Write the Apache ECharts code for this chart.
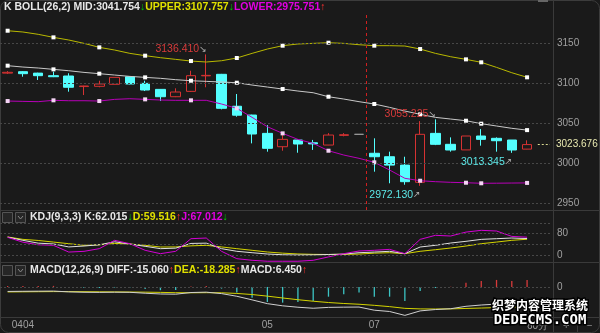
<!DOCTYPE html>
<html><head><meta charset="utf-8">
<script src="https://cdn.jsdelivr.net/npm/echarts@6/dist/echarts.min.js"></script>
<style>html,body{margin:0;padding:0;background:#1a1a1a;}#c{width:600px;height:333px;}</style>
</head><body><div id="c"></div>
<script>
// ---- data (60-minute bars) ----
const opens  = [3113.0,3114.8,3113.0,3109.8,3109.4,3096.2,3096.5,3099.0,3108.5,3100.2,3092.7,3083.5,3090.2,3109.6,3111.5,3071.6,3060.6,3037.7,3021.0,3029.4,3026.0,3023.1,3035.2,3036.5,3012.8,3008.5,2998.0,2976.5,3037.7,3024.0,3017.0,3034.4,3031.5,3029.4,3018.0];
const closes = [3114.0,3112.3,3109.8,3108.5,3095.3,3096.9,3099.4,3107.7,3099.4,3091.9,3083.5,3089.4,3109.8,3110.2,3069.0,3060.4,3036.9,3019.0,3030.2,3024.4,3024.5,3035.6,3036.0,3036.5,3008.5,2998.0,2977.3,3036.5,3024.0,3016.9,3034.4,3030.2,3028.5,3016.9,3023.676];
const lows   = [3112.0,3108.5,3104.4,3108.0,3089.8,3085.6,3095.3,3099.0,3099.0,3090.6,3078.1,3083.0,3089.5,3095.3,3067.7,3058.5,3025.2,3014.8,3016.0,3013.5,3017.0,3023.0,3034.0,3036.5,2989.8,2975.3,2973.5,2972.13,3023.0,3014.8,3017.0,3022.3,3014.8,3013.345,3017.8];
const highs  = [3115.5,3115.5,3113.5,3114.8,3112.8,3097.2,3103.5,3107.7,3109.0,3103.5,3093.0,3094.0,3116.0,3136.41,3112.0,3086.9,3061.0,3048.0,3035.6,3030.0,3029.5,3038.0,3038.0,3036.5,3031.5,3014.8,3008.5,3053.0,3055.225,3032.7,3034.4,3043.1,3032.7,3029.4,3029.0];

const bollUpper = [3166.0,3164.4,3161.5,3157.7,3154.4,3150.2,3145.2,3141.9,3137.7,3134.8,3132.3,3130.2,3128.1,3126.9,3128.5,3131.9,3137.7,3143.1,3147.3,3149.4,3150.2,3151.0,3150.2,3148.5,3147.3,3147.3,3146.9,3143.1,3137.7,3133.5,3130.2,3126.5,3120.2,3113.5,3107.757];
const bollMid   = [3122.3,3120.6,3119.4,3117.7,3116.0,3113.9,3112.3,3110.6,3108.9,3107.7,3106.5,3104.8,3103.5,3102.7,3101.9,3101.0,3098.1,3095.6,3093.1,3090.6,3088.5,3083.5,3080.6,3077.3,3074.4,3070.2,3065.6,3061.5,3057.7,3055.6,3053.5,3049.8,3046.9,3044.0,3041.754];
const bollLower = [3078.1,3077.7,3077.3,3079.0,3078.5,3078.5,3078.1,3080.2,3081.0,3080.2,3079.4,3079.0,3079.0,3079.0,3074.4,3069.0,3057.7,3046.0,3037.7,3030.2,3025.2,3016.0,3010.6,3006.5,3001.5,2991.9,2981.5,2978.5,2977.3,2976.5,2976.0,2975.3,2975.4,2975.6,2975.751];
const bollMarkIdx = [0,3,6,9,12,15,18,21,24,27,30,31,34];

const kdjK = [67.5,55.5,45.0,42.0,31.0,34.4,39.0,50.0,41.8,33.3,24.6,26.5,44.0,45.0,24.6,14.8,9.6,4.8,2.0,1.0,1.5,3.0,4.5,9.6,12.0,14.8,6.0,30.7,37.0,45.5,51.8,59.0,61.5,64.0,62.015];
const kdjD = [68.0,59.0,55.0,49.0,43.0,37.0,39.0,44.0,41.8,37.0,30.7,31.0,35.0,37.0,31.0,24.6,18.5,12.2,8.0,5.0,3.5,3.0,3.5,4.5,8.0,9.6,6.0,14.8,20.7,27.0,34.4,43.0,49.0,55.5,59.516];
const kdjJ = [66.5,48.5,39.0,37.0,12.0,14.7,24.6,55.5,43.0,18.5,6.0,14.8,61.5,64.0,14.8,-12.5,-18.5,-22.0,-22.0,-22.0,-18.5,-6.0,6.0,16.0,18.5,22.0,6.0,59.0,74.0,71.5,86.0,92.5,90.0,70.0,67.012];

const macdDiff = [-4.15,-4.0,-3.9,-3.8,-4.55,-4.9,-5.0,-4.85,-4.95,-5.8,-6.5,-6.7,-5.15,-4.8,-6.15,-8.6,-11.95,-15.45,-17.45,-18.75,-19.7,-18.9,-18.7,-18.6,-21.5,-22.7,-26.3,-22.15,-20.9,-20.15,-17.9,-16.7,-15.85,-15.9,-15.060];
const macdDea  = [-4.6,-4.5,-4.4,-4.3,-4.3,-4.4,-4.5,-4.6,-4.7,-4.8,-5.0,-5.3,-5.4,-5.3,-5.4,-6.0,-7.0,-8.5,-10.2,-11.8,-13.2,-14.4,-15.3,-16.0,-17.0,-18.2,-19.8,-20.3,-20.4,-20.3,-19.9,-19.5,-19.1,-18.7,-18.285];
const macdBar  = [0.9,1.0,1.0,1.0,-0.5,-1.0,-1.0,-0.5,-0.5,-2.0,-3.0,-2.8,0.5,1.0,-1.5,-5.2,-9.9,-13.9,-14.5,-13.9,-13.0,-9.0,-6.8,-5.2,-9.0,-9.0,-13.0,-3.7,-1.0,0.3,4.0,5.6,6.5,5.6,6.450];

const priceTicks = [2950,3000,3050,3100,3150];
const kdjTicks = [0,80];
const kdjGrid = [0,40,80,120];
const macdTicks = [0];
const dayLabels = ['0404','05','07'];
const dayLabelIdx = [1,17,24];
const sessionBreakAfter = 23;
const annotations = [{i:13,kind:'high'},{i:28,kind:'high'},{i:27,kind:'low'},{i:33,kind:'low'}];

// ---- build ----
const n = opens.length;
const cats = opens.map((_, i) => String(i)).concat(['pad']);
const last = a => a[a.length - 1];
const lastPrice = last(closes);
const RED = '#d63232', CYAN = '#54ffff', GREEN = '#00c800';
const arrow = a => a[a.length-1] > a[a.length-2] ? '{r|↑}' : '{g|↓}';
const FONT = 'Liberation Sans, Arial, sans-serif';

const candleData = opens.map((o, i) => {
  const v = [o, closes[i], lows[i], highs[i]];
  if (o === closes[i] && lows[i] === highs[i]) return {value: v, itemStyle: {color: '#9a9a9a', borderColor: '#9a9a9a', color0: '#9a9a9a', borderColor0: '#9a9a9a'}};
  return v;
});
const markData = (arr) => arr.map((v, i) => ({value: v, symbol: bollMarkIdx.includes(i) ? 'rect' : 'none'}));

const rich = {
  w: {color: '#e8e8e8', fontSize: 10.5, fontFamily: FONT},
  y: {color: '#e0e000', fontSize: 10.5, fontFamily: FONT},
  m: {color: '#e000e0', fontSize: 10.5, fontFamily: FONT},
  r: {color: '#ff3030', fontSize: 10.5, fontFamily: FONT},
  g: {color: GREEN, fontSize: 10.5, fontFamily: FONT}
};
const f3 = v => v.toFixed(3);

const gridLineStyle = {color: '#474747', type: [2, 2], width: 1};
const gridMarkData = vals => vals.map(v => ({yAxis: v, lineStyle: gridLineStyle, label: {show: false}}));

const annPoints = annotations.map(a => {
  const v = a.kind === 'high' ? highs[a.i] : lows[a.i];
  const hi = a.kind === 'high';
  return {
    coord: [a.i, v], symbol: 'circle', symbolSize: 1, itemStyle: {color: 'rgba(0,0,0,0)'},
    label: {show: true, position: 'left', distance: 0, offset: hi ? [1, -5] : [1, 9],
      formatter: hi ? `{t|${f3(v)}}{a|↘}` : `{t|${f3(v)}}{a|↗}`,
      rich: {t: {color: hi ? '#d83a3a' : '#5ce8e8', fontSize: 10.5, fontFamily: FONT}, a: {color: '#b0b0b0', fontSize: 9, fontFamily: 'DejaVu Sans'}}}
  };
});

const chart = echarts.init(document.getElementById('c'), null, {renderer: 'canvas'});
const axisLbl = {color: '#a0a0a0', fontSize: 10, fontFamily: FONT, formatter: v => String(v)};

chart.setOption({
  backgroundColor: '#1a1a1a',
  animation: false,
  title: [
    {left: 4, top: 2, padding: 0, text: `{w|K BOLL(26,2) MID:${f3(last(bollMid))}}${arrow(bollMid)}{y|UPPER:${f3(last(bollUpper))}}${arrow(bollUpper)}{m|LOWER:${f3(last(bollLower))}}${arrow(bollLower)}`, textStyle: {rich}},
    {left: 30, top: 212, padding: 0, text: `{w|KDJ(9,3,3) K:${f3(last(kdjK))}}${arrow(kdjK)}{y|D:${f3(last(kdjD))}}${arrow(kdjD)}{m|J:${f3(last(kdjJ))}}${arrow(kdjJ)}`, textStyle: {rich}},
    {left: 30, top: 265, padding: 0, text: `{w|MACD(12,26,9) DIFF:${f3(last(macdDiff))}}${arrow(macdDiff)}{y|DEA:${f3(last(macdDea))}}${arrow(macdDea)}{w|MACD:${f3(last(macdBar))}}${arrow(macdBar)}`, textStyle: {rich}}
  ],
  grid: [
    {left: 0, width: 550, top: 14, height: 196},
    {left: 0, width: 550, top: 210, height: 52},
    {left: 0, width: 550, top: 262, height: 55}
  ],
  xAxis: [
    {type: 'category', gridIndex: 0, data: cats, show: false},
    {type: 'category', gridIndex: 1, data: cats, show: false},
    {type: 'category', gridIndex: 2, data: cats, axisLine: {show: false}, axisTick: {show: false},
      axisLabel: {interval: 0, margin: 3, color: '#a0a0a0', fontSize: 10, fontFamily: FONT, formatter: (v, i) => { const k = dayLabelIdx.indexOf(i); return k >= 0 ? dayLabels[k] : ''; }}},
    {type: 'value', gridIndex: 0, min: -0.5, max: cats.length - 0.5, show: false}
  ],
  yAxis: [
    {type: 'value', gridIndex: 0, position: 'right', min: 2941.9, max: 3186.9, offset: 3, splitLine: {show: false}, axisLine: {show: false}, axisTick: {show: false},
      axisLabel: {customValues: priceTicks, margin: 4, ...axisLbl}},
    {type: 'value', gridIndex: 1, position: 'right', min: -24.8, max: 167.8, offset: 3, splitLine: {show: false}, axisLine: {show: false}, axisTick: {show: false},
      axisLabel: {customValues: kdjTicks, margin: 4, ...axisLbl}},
    {type: 'value', gridIndex: 2, position: 'right', min: -27.8, max: 23.1, offset: 3, splitLine: {show: false}, axisLine: {show: false}, axisTick: {show: false},
      axisLabel: {customValues: macdTicks, margin: 4, ...axisLbl}}
  ],
  series: [
    {type: 'candlestick', xAxisIndex: 0, yAxisIndex: 0, data: candleData, barWidth: 10,
      itemStyle: {color: 'transparent', color0: CYAN, borderColor: RED, borderColor0: CYAN, borderWidth: 1},
      markLine: {silent: true, symbol: ['none','none'], animation: false, data: gridMarkData(priceTicks)},
      markPoint: {silent: true, animation: false, data: annPoints}},
    {type: 'line', xAxisIndex: 0, yAxisIndex: 0, data: markData(bollUpper), showSymbol: true, showAllSymbol: true, symbolSize: 4, itemStyle: {color: '#ffffff'}, lineStyle: {color: '#b8b800', width: 1}},
    {type: 'line', xAxisIndex: 0, yAxisIndex: 0, data: markData(bollMid), showSymbol: true, showAllSymbol: true, symbolSize: 4, itemStyle: {color: '#ffffff'}, lineStyle: {color: '#c8c8c8', width: 1}},
    {type: 'line', xAxisIndex: 0, yAxisIndex: 0, data: markData(bollLower), showSymbol: true, showAllSymbol: true, symbolSize: 4, itemStyle: {color: '#f4d4f4'}, lineStyle: {color: '#b800b8', width: 1}},
    {type: 'scatter', xAxisIndex: 3, yAxisIndex: 0, data: [[sessionBreakAfter + 0.5, lastPrice]], symbolSize: 0,
      markLine: {silent: true, symbol: ['none','none'], animation: false, data: [
        {xAxis: sessionBreakAfter + 0.5, lineStyle: {color: '#d02020', type: [3, 3], width: 1}, label: {show: false}},
        [{coord: [n - 0.3, lastPrice], lineStyle: {color: '#d8d890', type: [2, 2], width: 1},
          label: {show: true, position: 'end', distance: 6, formatter: f3(lastPrice), color: '#e8e8b0', fontSize: 10, fontFamily: FONT}},
         {coord: [cats.length - 0.5, lastPrice]}]
      ]}},
    {type: 'line', xAxisIndex: 1, yAxisIndex: 1, data: kdjD, showSymbol: false, lineStyle: {color: '#d4d400', width: 1},
      markLine: {silent: true, symbol: ['none','none'], animation: false, data: gridMarkData(kdjGrid)}},
    {type: 'line', xAxisIndex: 1, yAxisIndex: 1, data: kdjK, showSymbol: false, lineStyle: {color: '#e0e0e0', width: 1}},
    {type: 'line', xAxisIndex: 1, yAxisIndex: 1, data: kdjJ, showSymbol: false, lineStyle: {color: '#d400d4', width: 1}},
    {type: 'bar', xAxisIndex: 2, yAxisIndex: 2, data: macdBar, barWidth: 1.3,
      itemStyle: {color: p => p.value >= 0 ? '#d83a3a' : '#3cc4c4'},
      markLine: {silent: true, symbol: ['none','none'], animation: false, data: gridMarkData(macdTicks)}},
    {type: 'line', xAxisIndex: 2, yAxisIndex: 2, data: macdDea, showSymbol: false, lineStyle: {color: '#d4d400', width: 1}},
    {type: 'line', xAxisIndex: 2, yAxisIndex: 2, data: macdDiff, showSymbol: false, lineStyle: {color: '#d0d0d0', width: 1}}
  ],
  graphic: [
    {type: 'rect', shape: {x: 0.5, y: 0.5, width: 599, height: 332, r: 8}, style: {fill: 'none', stroke: '#3c3c3c', lineWidth: 1}, silent: true},
    {type: 'line', shape: {x1: 0, y1: 210.5, x2: 600, y2: 210.5}, style: {stroke: '#3a3a3a', lineWidth: 1}, silent: true},
    {type: 'line', shape: {x1: 0, y1: 262.5, x2: 600, y2: 262.5}, style: {stroke: '#3a3a3a', lineWidth: 1}, silent: true},
    {type: 'line', shape: {x1: 0, y1: 317.5, x2: 600, y2: 317.5}, style: {stroke: '#3a3a3a', lineWidth: 1}, silent: true},
    {type: 'line', shape: {x1: 553.5, y1: 0, x2: 553.5, y2: 333}, style: {stroke: '#3a3a3a', lineWidth: 1}, silent: true},
    {type: 'rect', shape: {x: 538, y: 0, width: 10, height: 2}, style: {fill: '#666'}, silent: true},
    {type: 'rect', shape: {x: 2.5, y: 212.5, width: 10, height: 10}, style: {fill: '#262626', stroke: '#555'}, silent: true},
    {type: 'rect', shape: {x: 15.5, y: 212.5, width: 10, height: 10}, style: {fill: '#262626', stroke: '#555'}, silent: true},
    {type: 'polyline', shape: {points: [[18, 216], [20.5, 219], [23, 216]]}, style: {stroke: '#888', fill: 'none'}, silent: true},
    {type: 'rect', shape: {x: 2.5, y: 265.5, width: 10, height: 10}, style: {fill: '#262626', stroke: '#555'}, silent: true},
    {type: 'rect', shape: {x: 15.5, y: 265.5, width: 10, height: 10}, style: {fill: '#262626', stroke: '#555'}, silent: true},
    {type: 'polyline', shape: {points: [[18, 269], [20.5, 272], [23, 269]]}, style: {stroke: '#888', fill: 'none'}, silent: true},
    {type: 'text', x: 527, y: 326, style: {text: '60分', fill: '#a0a0a0', font: '10px ' + FONT, textVerticalAlign: 'middle', verticalAlign: 'middle'}, silent: true},
    {type: 'text', x: 563, y: 326, style: {text: '+', fill: '#888', font: '11px ' + FONT, textVerticalAlign: 'middle', verticalAlign: 'middle'}, silent: true},
    {type: 'text', x: 586, y: 326, style: {text: '−', fill: '#888', font: '11px ' + FONT, textVerticalAlign: 'middle', verticalAlign: 'middle'}, silent: true},
    {type: 'line', shape: {x1: 577.5, y1: 318, x2: 577.5, y2: 333}, style: {stroke: '#3a3a3a'}, silent: true},
    {type: 'text', z: 100, x: 540, y: 305, style: {text: '织梦内容管理系统', fill: '#ffffff', stroke: '#000', lineWidth: 3, font: 'bold 12px "Noto Sans CJK SC"', textAlign: 'center', align: 'center', textVerticalAlign: 'middle', verticalAlign: 'middle'}, silent: true},
    {type: 'text', z: 100, x: 540, y: 320, style: {text: 'DEDECMS.COM', fill: '#ffffff', stroke: '#000', lineWidth: 3, font: 'bold 14px "DejaVu Sans Mono"', textAlign: 'center', align: 'center', textVerticalAlign: 'middle', verticalAlign: 'middle'}, silent: true}
  ]
});
</script></body></html>
